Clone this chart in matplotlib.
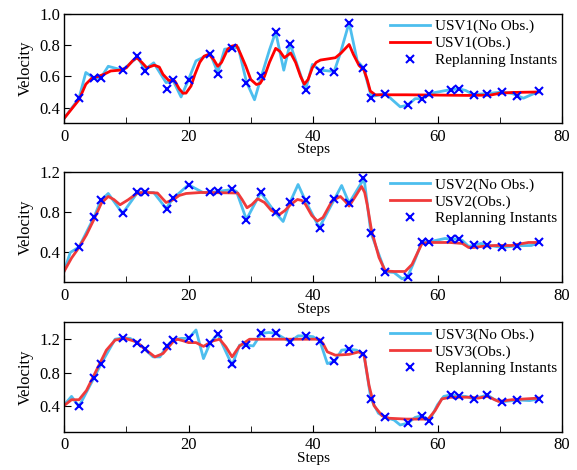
import matplotlib
matplotlib.use("Agg")
import matplotlib.pyplot as plt
from matplotlib.ticker import MultipleLocator

plt.rcParams['font.family'] = ['Liberation Serif', 'DejaVu Serif']

# ---------------- data ----------------
rp_steps = [2.4, 4.8, 5.9, 9.4, 11.8, 13.0, 16.5, 17.5, 20.0, 23.5, 24.7, 27.0, 29.3,
            31.7, 34.0, 36.3, 38.8, 41.1, 43.4, 45.8, 48.1, 49.3, 51.6, 55.2, 57.5,
            58.7, 62.1, 63.4, 65.8, 68.0, 70.4, 72.8, 76.3]

usv1_rp = [0.46, 0.59, 0.59, 0.64, 0.73, 0.635, 0.52, 0.58, 0.58, 0.745, 0.615, 0.78,
           0.56, 0.60, 0.885, 0.81, 0.51, 0.635, 0.63, 0.945, 0.655, 0.46, 0.49, 0.415,
           0.457, 0.49, 0.515, 0.517, 0.483, 0.49, 0.50, 0.474, 0.504]
usv2_rp = [0.454, 0.75, 0.92, 0.79, 1.0, 1.0, 0.83, 0.94, 1.077, 1.0, 1.01, 1.03, 0.727,
           1.0, 0.80, 0.90, 0.92, 0.647, 0.937, 0.894, 1.144, 0.597, 0.207, 0.157, 0.507,
           0.507, 0.534, 0.534, 0.474, 0.474, 0.45, 0.467, 0.50]
usv3_rp = [0.40, 0.74, 0.90, 1.216, 1.16, 1.08, 1.116, 1.19, 1.21, 1.16, 1.26, 0.91, 1.13,
           1.27, 1.27, 1.17, 1.24, 1.18, 0.94, 1.08, 1.02, 0.49, 0.27, 0.20, 0.29, 0.23,
           0.537, 0.525, 0.49, 0.537, 0.456, 0.477, 0.49]

usv1_nobs_x = [0, 2.4, 3.5, 4.8, 5.9, 7.1, 9.4, 11.8, 13.0, 14.4, 16.4, 17.5, 18.8, 20.0,
               21.2, 23.5, 24.7, 25.8, 27.0, 28.0, 29.3, 30.6, 31.7, 33.0, 34.0, 35.3, 36.3,
               38.8, 39.9, 41.1, 43.4, 44.4, 45.8, 47.1, 48.1, 49.3, 49.8, 51.6, 54.0, 55.2,
               56.4, 57.5, 58.7, 62.1, 63.4, 64.5, 65.8, 68.0, 70.4, 72.0, 73.8, 76.3]
usv1_nobs_y = [0.33, 0.46, 0.625, 0.59, 0.59, 0.665, 0.64, 0.725, 0.645, 0.687, 0.56, 0.575,
               0.468, 0.58, 0.70, 0.745, 0.625, 0.775, 0.78, 0.785, 0.565, 0.45, 0.60, 0.77,
               0.885, 0.64, 0.81, 0.515, 0.677, 0.64, 0.632, 0.75, 0.945, 0.70, 0.655, 0.48,
               0.474, 0.49, 0.405, 0.415, 0.457, 0.457, 0.49, 0.515, 0.52, 0.51, 0.483, 0.49,
               0.50, 0.49, 0.46, 0.504]

usv1_obs_x = [0, 1.2, 2.4, 3.5, 4.5, 5.5, 6.5, 7.5, 9.0, 10.0, 11.0, 11.7, 12.5, 13.3, 14.5,
              15.3, 15.9, 16.8, 17.8, 18.5, 19.1, 19.6, 20.4, 21.0, 21.8, 22.5, 23.3, 24.0,
              24.7, 25.3, 26.3, 27.0, 27.7, 28.3, 29.2, 30.0, 30.9, 31.5, 32.2, 33.0, 34.0,
              34.7, 35.4, 36.4, 37.2, 38.0, 38.6, 39.2, 39.9, 40.5, 41.2, 42.5, 43.6, 44.5,
              45.8, 46.5, 47.4, 48.2, 48.7, 49.2, 50.0, 52, 55, 60, 65, 68.5, 70, 72, 76.3]
usv1_obs_y = [0.33, 0.39, 0.45, 0.55, 0.59, 0.60, 0.615, 0.635, 0.64, 0.655, 0.70, 0.72,
              0.69, 0.655, 0.672, 0.66, 0.613, 0.575, 0.57, 0.52, 0.492, 0.493, 0.538, 0.61,
              0.69, 0.73, 0.742, 0.71, 0.665, 0.69, 0.775, 0.795, 0.80, 0.75, 0.666, 0.58,
              0.548, 0.555, 0.60, 0.69, 0.78, 0.76, 0.72, 0.75, 0.69, 0.60, 0.55, 0.58, 0.656,
              0.69, 0.705, 0.713, 0.72, 0.75, 0.805, 0.74, 0.67, 0.64, 0.58, 0.506, 0.482,
              0.482, 0.482, 0.48, 0.478, 0.48, 0.492, 0.497, 0.50]

usv2_nobs_x = [0, 1.0, 2.4, 4.8, 5.9, 7.1, 9.4, 11.8, 13.0, 14.4, 16.4, 17.5, 20.0, 22.3,
               23.5, 24.7, 27.0, 27.7, 29.3, 31.6, 33.9, 35.2, 36.3, 37.6, 38.8, 41.0, 43.5,
               44.6, 45.8, 48.2, 49.3, 51.6, 53.0, 54.3, 55.2, 56.4, 57.5, 58.7, 61.2, 62.1,
               63.4, 64.0, 65.0, 65.8, 67.0, 68.0, 70.4, 72.8, 75.1, 76.3]
usv2_nobs_y = [0.21, 0.40, 0.454, 0.75, 0.92, 0.99, 0.79, 1.0, 1.0, 1.0, 0.84, 0.94, 1.077,
               1.0, 1.0, 1.01, 1.03, 1.01, 0.73, 1.0, 0.80, 0.71, 0.90, 1.08, 0.915, 0.647,
               0.94, 1.07, 0.894, 1.14, 0.597, 0.207, 0.20, 0.137, 0.157, 0.33, 0.507, 0.507,
               0.54, 0.534, 0.534, 0.52, 0.46, 0.474, 0.49, 0.474, 0.45, 0.467, 0.47, 0.50]

usv2_obs_x = [0, 1.2, 2.4, 3.6, 4.8, 6.0, 7.1, 8.0, 9.0, 10.3, 11.8, 13, 15.0, 15.8, 16.4,
              17.6, 18.5, 19.6, 22, 27.9, 28.6, 29.4, 30.2, 31.1, 32.2, 33.3, 34.6, 35.5,
              36.4, 37.5, 38.2, 38.8, 39.8, 40.7, 41.6, 43.1, 44.4, 45.2, 45.8, 46.8, 47.8,
              48.3, 48.7, 49.4, 50.6, 51.6, 53, 54.8, 55.9, 57.5, 58.5, 62, 64, 65.0, 65.8,
              67, 69.2, 71.9, 74.6, 76.3]
usv2_obs_y = [0.21, 0.344, 0.45, 0.577, 0.73, 0.894, 0.96, 0.93, 0.877, 0.927, 0.995, 1.0,
              0.995, 0.94, 0.90, 0.93, 0.97, 0.99, 1.0, 0.995, 0.93, 0.847, 0.88, 0.937, 0.90,
              0.82, 0.78, 0.82, 0.88, 0.93, 0.92, 0.88, 0.77, 0.714, 0.75, 0.92, 0.96, 0.91,
              0.864, 0.96, 1.06, 1.0, 0.88, 0.62, 0.35, 0.215, 0.21, 0.21, 0.28, 0.49, 0.50,
              0.50, 0.49, 0.45, 0.45, 0.46, 0.47, 0.47, 0.50, 0.50]

usv3_nobs_x = [0, 1.2, 2.4, 4.8, 5.9, 8.2, 9.4, 10.6, 11.8, 13.0, 14.3, 15.4, 16.5, 17.5,
               18.8, 20.0, 21.2, 22.4, 23.5, 24.7, 27.0, 28.2, 29.3, 30.4, 31.7, 32.9, 34.0,
               36.3, 37.6, 38.8, 40.0, 41.1, 42.3, 43.5, 44.6, 45.8, 47.0, 48.2, 49.3, 50.5,
               51.6, 53.0, 54.0, 55.2, 56.4, 57.5, 58.7, 60.0, 61.0, 62.1, 63.4, 64.5, 65.8,
               68.0, 69.2, 70.4, 72.8, 74.8, 76.3]
usv3_nobs_y = [0.416, 0.52, 0.40, 0.74, 0.90, 1.20, 1.216, 1.21, 1.16, 1.08, 0.99, 0.99,
               1.116, 1.19, 1.21, 1.21, 1.31, 0.97, 1.16, 1.26, 0.89, 1.13, 1.13, 1.12, 1.27,
               1.28, 1.27, 1.17, 1.24, 1.24, 1.23, 1.18, 0.91, 0.94, 1.07, 1.08, 1.07, 1.01,
               0.49, 0.32, 0.27, 0.24, 0.18, 0.20, 0.27, 0.29, 0.23, 0.42, 0.52, 0.537, 0.525,
               0.52, 0.49, 0.537, 0.48, 0.456, 0.477, 0.47, 0.49]

usv3_obs_x = [0, 1.2, 2.4, 3.6, 5.2, 6.8, 8.2, 9.8, 11.6, 13.2, 14.6, 15.9, 17.5, 18.2, 19.2,
              20.0, 21.2, 22.4, 23.9, 25.0, 26.0, 27.0, 28.2, 29.8, 31, 41, 41.6, 42.3, 43.6,
              45.8, 47.4, 48.2, 49.0, 49.8, 51.1, 52.2, 55, 58.5, 59.6, 60.7, 62.1, 65, 66.6,
              68, 69.8, 71.9, 76.3]
usv3_obs_y = [0.41, 0.48, 0.48, 0.59, 0.83, 1.07, 1.19, 1.21, 1.17, 1.07, 0.99, 1.03, 1.17,
              1.20, 1.18, 1.16, 1.16, 1.115, 1.18, 1.20, 1.11, 0.99, 1.12, 1.2, 1.2, 1.2, 1.15,
              1.05, 1.01, 1.02, 1.05, 1.01, 0.65, 0.41, 0.29, 0.26, 0.25, 0.25, 0.35, 0.49,
              0.51, 0.51, 0.50, 0.52, 0.46, 0.48, 0.50]

panels = [
    ("USV1", usv1_nobs_x, usv1_nobs_y, usv1_obs_x, usv1_obs_y, usv1_rp, (0.3, 1.0),
     [0.4, 0.6, 0.8, 1.0], '#ff0000'),
    ("USV2", usv2_nobs_x, usv2_nobs_y, usv2_obs_x, usv2_obs_y, usv2_rp, (0.1, 1.2),
     [0.4, 0.8, 1.2], '#f03a3a'),
    ("USV3", usv3_nobs_x, usv3_nobs_y, usv3_obs_x, usv3_obs_y, usv3_rp, (0.1, 1.4),
     [0.4, 0.8, 1.2], '#f03a3a'),
]

# ---------------- figure ----------------
fig = plt.figure(figsize=(5.77, 4.70), dpi=100)
boxes = [(0.111, 0.738, 0.863, 0.232),
         (0.111, 0.399, 0.863, 0.234),
         (0.111, 0.0815, 0.863, 0.2325)]

for (name, bx, by, rx, ry, rp, ylim, yt, rcol), box in zip(panels, boxes):
    ax = fig.add_axes(box)
    ax.plot(bx, by, color='#4DBEEE', lw=2.0, label=f'{name}(No Obs.)',
            solid_joinstyle='round')
    ax.plot(rx, ry, color=rcol, lw=2.0, label=f'{name}(Obs.)',
            solid_joinstyle='round')
    ax.plot(rp_steps, rp, 'x', color='#0000ff', ms=6, mew=1.5, ls='none',
            label='Replanning Instants')
    ax.set_xlim(0, 80)
    ax.set_ylim(*ylim)
    ax.set_yticks(yt)
    ax.xaxis.set_major_locator(MultipleLocator(20))
    ax.xaxis.set_minor_locator(MultipleLocator(10))
    ax.tick_params(axis='both', which='both', direction='in', labelsize=12,
                   top=False, right=False)
    ax.tick_params(axis='x', which='major', length=5, pad=4)
    ax.tick_params(axis='x', which='minor', length=4)
    ax.tick_params(axis='y', which='both', length=5, pad=3)
    for s in ax.spines.values():
        s.set_linewidth(1.0)
    ax.set_xlabel('Steps', fontsize=11, labelpad=-1)
    ax.set_ylabel('Velocity', fontsize=12, labelpad=4)
    ax.legend(loc='upper right', frameon=False, fontsize=11, handlelength=2.6,
              handletextpad=0.3, labelspacing=0.2, borderaxespad=0.15,
              borderpad=0.2, numpoints=1)

fig.savefig('out.png', dpi=100)
